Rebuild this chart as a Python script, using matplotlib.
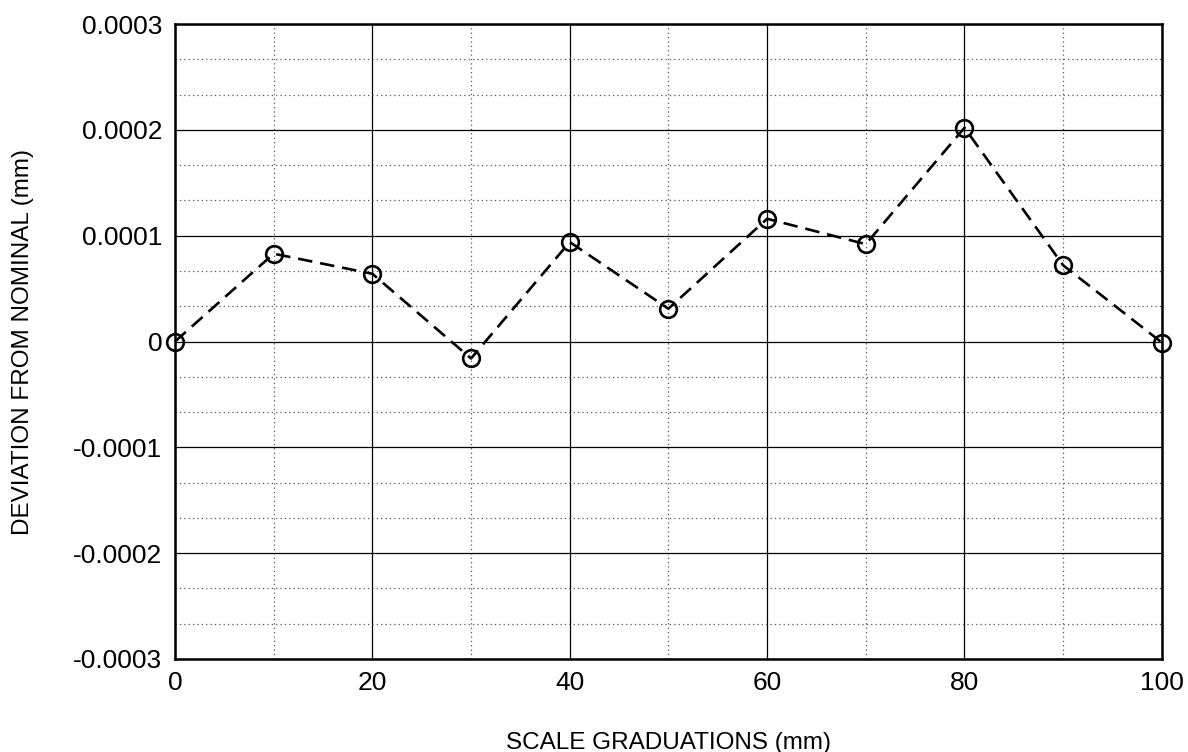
import numpy as np
import matplotlib
matplotlib.use("Agg")
import matplotlib.pyplot as plt
from matplotlib.ticker import MultipleLocator, FixedLocator

plt.rcParams["font.family"] = ["Liberation Sans", "DejaVu Sans"]

graduations = [0, 10, 20, 30, 40, 50, 60, 70, 80, 90, 100]
deviation = [0.0, 0.000083, 0.000064, -0.000016, 0.000094, 0.000031,
             0.000116, 0.000092, 0.000202, 0.000072, -0.000001]

x_ticks = [0, 20, 40, 60, 80, 100]
y_ticks = [-0.0003, -0.0002, -0.0001, 0, 0.0001, 0.0002, 0.0003]
y_labels = ["-0.0003", "-0.0002", "-0.0001", "0", "0.0001", "0.0002", "0.0003"]

fig = plt.figure(figsize=(11.88, 7.52), dpi=100)
ax = fig.add_axes([0.1473, 0.1237, 0.8307, 0.8443])

ax.plot(graduations, deviation, color="black", linestyle=(0, (5.5, 3)),
        linewidth=1.9, marker="o", markersize=12, markerfacecolor="none",
        markeredgewidth=1.9, markeredgecolor="black", zorder=3, clip_on=False)

ax.set_xlim(0, 100)
ax.set_ylim(-0.0003, 0.0003)
ax.set_xticks(x_ticks)
ax.set_yticks(y_ticks)
ax.set_yticklabels(y_labels)
ax.xaxis.set_minor_locator(MultipleLocator(10))
ax.yaxis.set_minor_locator(FixedLocator(np.linspace(-0.0003, 0.0003, 19)))

ax.grid(which="major", color="black", linewidth=0.9)
ax.grid(which="minor", color="#555555", linewidth=0.9, linestyle=(0, (1, 2.5)))
ax.set_axisbelow(True)

ax.tick_params(which="both", length=0, labelsize=19, pad=9)
for side in ["left", "bottom", "right", "top"]:
    ax.spines[side].set_linewidth(1.8)

ax.set_xlabel("SCALE GRADUATIONS (mm)", fontsize=17.5, labelpad=26)
ax.set_ylabel("DEVIATION FROM NOMINAL (mm)", fontsize=17.5, labelpad=28)

fig.savefig("out.png", dpi=100)
